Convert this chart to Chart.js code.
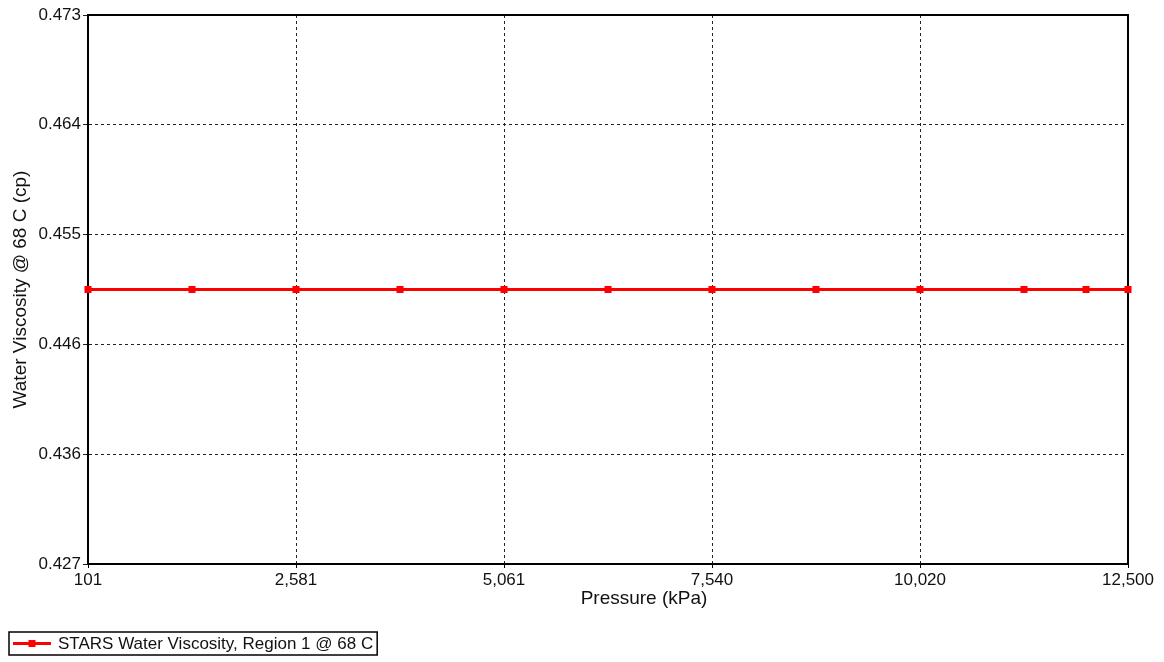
<!DOCTYPE html>
<html>
<head>
<meta charset="utf-8">
<script src="https://cdn.jsdelivr.net/npm/chart.js@4/dist/chart.umd.min.js"></script>
<style>
  html, body { margin: 0; padding: 0; background: #fff; }
  canvas { display: block; }
</style>
</head>
<body>
<canvas id="c" width="1164" height="662"></canvas>
<script>
// Pressure (kPa) of each table point
const pressures = [101, 1341, 2581, 3821, 5061, 6301, 7540, 8780, 10020, 11260, 12000, 12500];
// Water viscosity (cp) at 68 C for each pressure
const viscosity = [0.450, 0.450, 0.450, 0.450, 0.450, 0.450, 0.450, 0.450, 0.450, 0.450, 0.450, 0.450];
const seriesName = 'STARS Water Viscosity, Region 1 @ 68 C';

// Axis ranges, tick labels and titles
const xMin = 101, xMax = 12500;
const xTickLabels = ['101', '2,581', '5,061', '7,540', '10,020', '12,500'];
const yMin = 0.427, yMax = 0.473;
const yTickLabels = ['0.427', '0.436', '0.446', '0.455', '0.464', '0.473'];
const xTitle = 'Pressure (kPa)';
const yTitle = 'Water Viscosity @ 68 C (cp)';

const FONT = '"Liberation Sans", Arial, sans-serif';

function evenTicks(min, max, n) {
  const out = [];
  for (let i = 0; i < n; i++) out.push({ value: min + (max - min) * i / (n - 1) });
  return out;
}

// Full black frame around the plot area
const framePlugin = {
  id: 'frame',
  beforeDatasetsDraw(chart) {
    const { ctx, chartArea: a } = chart;
    ctx.save();
    ctx.strokeStyle = '#000';
    ctx.lineWidth = 2;
    ctx.strokeRect(a.left, a.top, a.right - a.left, a.bottom - a.top);
    ctx.restore();
  }
};

// Pressure axis title, set a little right of the plot centre
const xTitlePlugin = {
  id: 'xTitle',
  afterDraw(chart) {
    const { ctx, chartArea: a } = chart;
    ctx.save();
    ctx.font = '19px ' + FONT;
    ctx.fillStyle = '#111';
    ctx.textAlign = 'center';
    ctx.textBaseline = 'middle';
    ctx.fillText(xTitle, (a.left + a.right) / 2 + 36, a.bottom + 35);
    ctx.restore();
  }
};

// Boxed legend in the lower-left corner: line with square marker plus label
const boxLegendPlugin = {
  id: 'boxLegend',
  afterDraw(chart) {
    const { ctx } = chart;
    const ds = chart.data.datasets[0];
    ctx.save();
    ctx.font = '17px ' + FONT;
    const textW = ctx.measureText(ds.label).width;
    const x0 = 9, y0 = 632, h = 23;
    const lineStart = x0 + 4, lineEnd = x0 + 42;
    const textX = lineEnd + 7;
    const w = textX + textW + 4 - x0;
    ctx.strokeStyle = '#000';
    ctx.lineWidth = 1.5;
    ctx.strokeRect(x0, y0, w, h);
    const cy = y0 + h / 2;
    ctx.strokeStyle = ds.borderColor;
    ctx.lineWidth = 3;
    ctx.beginPath();
    ctx.moveTo(lineStart, cy);
    ctx.lineTo(lineEnd, cy);
    ctx.stroke();
    ctx.fillStyle = ds.pointBackgroundColor;
    ctx.fillRect((lineStart + lineEnd) / 2 - 3.5, cy - 3.5, 7, 7);
    ctx.fillStyle = '#111';
    ctx.textBaseline = 'middle';
    ctx.fillText(ds.label, textX, cy + 1);
    ctx.restore();
  }
};

new Chart(document.getElementById('c'), {
  type: 'line',
  data: {
    datasets: [{
      label: seriesName,
      data: pressures.map((p, i) => ({ x: p, y: viscosity[i] })),
      borderColor: '#ff0000',
      backgroundColor: '#ff0000',
      pointBackgroundColor: '#ff0000',
      pointBorderColor: '#ff0000',
      borderWidth: 3,
      pointStyle: 'rect',
      pointRadius: 5,
      pointBorderWidth: 0,
      tension: 0,
      clip: false
    }]
  },
  options: {
    responsive: false,
    animation: false,
    devicePixelRatio: 1,
    layout: { padding: { left: 0, top: 15, right: 36, bottom: 52 } },
    plugins: {
      legend: { display: false },
      tooltip: { enabled: false }
    },
    scales: {
      x: {
        type: 'linear',
        min: xMin,
        max: xMax,
        afterBuildTicks(scale) { scale.ticks = evenTicks(xMin, xMax, xTickLabels.length); },
        afterFit(scale) { scale.height = 46; },
        ticks: {
          autoSkip: false,
          maxRotation: 0,
          color: '#111',
          font: { family: FONT, size: 17 },
          padding: 2,
          callback: (v, i) => xTickLabels[i]
        },
        grid: {
          color: '#222',
          lineWidth: 1,
          drawTicks: true,
          tickLength: 4,
          tickColor: '#000'
        },
        border: { display: true, color: '#000', width: 2, dash: [3, 3] },
        title: { display: false }
      },
      y: {
        type: 'linear',
        min: yMin,
        max: yMax,
        afterBuildTicks(scale) { scale.ticks = evenTicks(yMin, yMax, yTickLabels.length); },
        afterFit(scale) { scale.width = 88; },
        ticks: {
          autoSkip: false,
          color: '#111',
          font: { family: FONT, size: 17 },
          padding: 2,
          callback: (v, i) => yTickLabels[i]
        },
        grid: {
          color: '#222',
          lineWidth: 1,
          drawTicks: true,
          tickLength: 5,
          tickColor: '#222'
        },
        border: { display: true, color: '#000', width: 2, dash: [3, 3] },
        title: {
          display: true,
          text: yTitle,
          color: '#111',
          font: { family: FONT, size: 19 },
          padding: { top: 9, bottom: 0 }
        }
      }
    }
  },
  plugins: [framePlugin, xTitlePlugin, boxLegendPlugin]
});
</script>
</body>
</html>
